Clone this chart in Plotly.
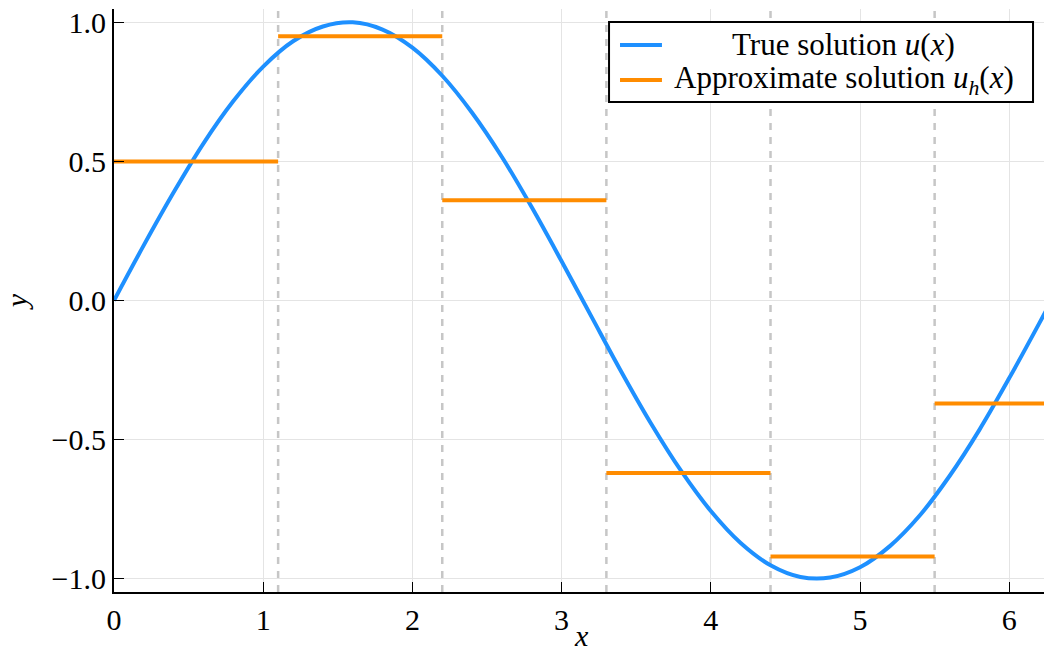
import plotly.graph_objects as go

# True solution u(x), sampled along [0, 2π]
x_true = [0.0, 0.2, 0.4, 0.6, 0.8, 1.0, 1.2, 1.4, 1.6, 1.8, 2.0, 2.2, 2.4, 2.6, 2.8, 3.0,
          3.2, 3.4, 3.6, 3.8, 4.0, 4.2, 4.4, 4.6, 4.8, 5.0, 5.2, 5.4, 5.6, 5.8, 6.0, 6.2, 6.283]
u_true = [0.000, 0.199, 0.389, 0.565, 0.717, 0.841, 0.932, 0.985, 1.000, 0.974, 0.909,
          0.808, 0.675, 0.516, 0.335, 0.141, -0.058, -0.256, -0.443, -0.612, -0.757,
          -0.872, -0.952, -0.994, -0.996, -0.959, -0.883, -0.773, -0.631, -0.465, -0.279,
          -0.083, 0.000]

# Mesh nodes and the piecewise-constant approximation on each element
nodes = [0.0, 1.1, 2.2, 3.3, 4.4, 5.5, 6.283]
u_h = [0.50, 0.95, 0.36, -0.62, -0.92, -0.37]

x_ticks = [0, 1, 2, 3, 4, 5, 6]
y_ticks = [-1.0, -0.5, 0.0, 0.5, 1.0]
y_tick_text = ["\u22121.0", "\u22120.5", "0.0", "0.5", "1.0"]

FONT = "Liberation Serif"
TICK_SIZE = 30
LEGEND_SIZE = 31
BLUE = "#1E90FF"
ORANGE = "#FF8C00"

X_RANGE = [0, 6.233]
Y_RANGE = [-1.048, 1.048]

true_name = "True solution <i>u</i>(<i>x</i>)"
approx_name = "Approximate solution <i>u</i><sub><i>h</i></sub>(<i>x</i>)"

fig = go.Figure()

# element boundaries (interior nodes) as dashed vertical lines
for xn in nodes[1:-1]:
    fig.add_trace(go.Scatter(
        x=[xn, xn], y=Y_RANGE, mode="lines",
        line=dict(color="#c6c6c6", width=2.5, dash="7px,7px"),
        showlegend=False, hoverinfo="skip"))

fig.add_trace(go.Scatter(
    x=x_true, y=u_true, mode="lines",
    line=dict(color=BLUE, width=4, shape="spline", smoothing=1.0),
    name=true_name, showlegend=False))

seg_x, seg_y = [], []
for i, v in enumerate(u_h):
    seg_x += [nodes[i], nodes[i + 1], None]
    seg_y += [v, v, None]
fig.add_trace(go.Scatter(
    x=seg_x, y=seg_y, mode="lines",
    line=dict(color=ORANGE, width=4),
    name=approx_name, showlegend=False))

# legend box drawn in paper coordinates, entries centred in the box
legend_box = dict(x0=0.5323, x1=0.9882, y0=0.8405, y1=0.9777)
rows_y = [0.9383, 0.8782]
sample_x = [0.5441, 0.5892]
text_cx = 0.7849
fig.add_shape(type="rect", xref="paper", yref="paper", **legend_box,
              line=dict(color="black", width=2), fillcolor="white", layer="above")
for ry, color, label in zip(rows_y, [BLUE, ORANGE], [true_name, approx_name]):
    fig.add_shape(type="line", xref="paper", yref="paper",
                  x0=sample_x[0], x1=sample_x[1], y0=ry, y1=ry,
                  line=dict(color=color, width=4), layer="above")
    fig.add_annotation(xref="paper", yref="paper", x=text_cx, y=ry,
                       xanchor="center", yanchor="middle", showarrow=False,
                       text=label, font=dict(family=FONT, size=LEGEND_SIZE, color="black"))

# x-axis title placed below the tick labels, sitting on the bottom edge
fig.add_annotation(xref="paper", yref="paper", x=0.503, y=-0.1046,
                   xanchor="center", yanchor="bottom", showarrow=False, borderpad=0,
                   text="<i>x</i>", font=dict(family=FONT, size=TICK_SIZE, color="black"))

axis_common = dict(
    showline=True, linecolor="black", linewidth=2,
    ticks="inside", ticklen=10, tickwidth=1, tickcolor="black",
    showgrid=True, gridcolor="#e4e4e4", gridwidth=1,
    zeroline=False, mirror=False, automargin=False,
    tickfont=dict(family=FONT, size=TICK_SIZE, color="black"),
)

fig.update_layout(
    width=1044, height=653,
    margin=dict(l=114, r=0, t=9, b=61),
    paper_bgcolor="white", plot_bgcolor="white",
    font=dict(family=FONT, size=TICK_SIZE, color="black"),
    xaxis=dict(range=X_RANGE, tickvals=x_ticks, **axis_common),
    yaxis=dict(range=Y_RANGE, tickvals=y_ticks, ticktext=y_tick_text,
               title=dict(text="<i>y</i>", font=dict(family=FONT, size=TICK_SIZE), standoff=22),
               **axis_common),
    showlegend=False,
)

fig.write_html("out.html")
